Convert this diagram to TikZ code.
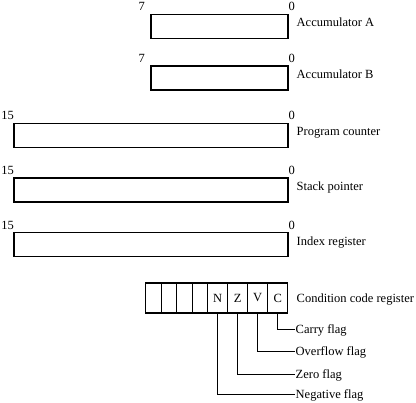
\documentclass[tikz,border=0pt]{standalone}
\usepackage{fontspec}
\setmainfont{Liberation Serif}
\begin{document}
\begin{tikzpicture}[x=1pt,y=-1pt,
  reg/.style={draw, line width=1.3pt, rectangle, inner sep=0pt, outer sep=0pt, minimum height=24pt},
  cell/.style={draw, line width=1.3pt, rectangle, inner sep=0pt, outer sep=0pt, minimum height=30pt, font=\fontsize{12.5}{14}\selectfont},
  bit/.style={inner sep=0pt, font=\fontsize{12.5}{14}\selectfont},
  lbl/.style={inner sep=0pt, anchor=base west, font=\fontsize{12.5}{14}\selectfont},
  wire/.style={line width=1.3pt}]
\useasboundingbox (0,0) rectangle (416,403);

% Accumulator A
\node[reg, minimum width=137pt] (accA) at (219.5,26.3) {};
\node[bit, anchor=base east] (accAh) at (145,10.7) {7};
\node[bit, anchor=base west] (accAl) at (288.3,10.7) {0};
\node[lbl] (accAn) at (296.5,26.8) {Accumulator A};

% Accumulator B
\node[reg, minimum width=137pt] (accB) at (219.5,78) {};
\node[bit, anchor=base east] (accBh) at (145,62.5) {7};
\node[bit, anchor=base west] (accBl) at (288.3,62.5) {0};
\node[lbl] (accBn) at (296.5,78.5) {Accumulator B};

% Program counter
\node[reg, minimum width=274pt] (pc) at (151,135.3) {};
\node[bit, anchor=base east] (pch) at (14,119.8) {15};
\node[bit, anchor=base west] (pcl) at (288.3,119.8) {0};
\node[lbl] (pcn) at (296.5,135.8) {Program counter};

% Stack pointer
\node[reg, minimum width=274pt] (sp) at (151,190) {};
\node[bit, anchor=base east] (sph) at (14,174.5) {15};
\node[bit, anchor=base west] (spl) at (288.3,174.5) {0};
\node[lbl] (spn) at (296.5,190.5) {Stack pointer};

% Index register
\node[reg, minimum width=274pt] (ix) at (151,244.7) {};
\node[bit, anchor=base east] (ixh) at (14,229.2) {15};
\node[bit, anchor=base west] (ixl) at (288.3,229.2) {0};
\node[lbl] (ixn) at (296.5,245.2) {Index register};

% Condition code register
\node[cell, minimum width=15.5pt] (c7) at (153.45,298) {};
\node[cell, minimum width=15.5pt] (c6) at (168.95,298) {};
\node[cell, minimum width=15.5pt] (c5) at (184.45,298) {};
\node[cell, minimum width=15.5pt] (c4) at (199.95,298) {};
\node[cell, minimum width=20pt] (cN) at (217.7,298) {N};
\node[cell, minimum width=20pt] (cZ) at (237.7,298) {Z};
\node[cell, minimum width=20pt] (cV) at (257.7,298) {V};
\node[cell, minimum width=20pt] (cC) at (277.7,298) {C};
\node[lbl] (ccrn) at (296.5,302.3) {Condition code register};

% Flag labels
\node[lbl] (fC) at (295.5,333.5) {Carry flag};
\node[lbl] (fV) at (295.5,356) {Overflow flag};
\node[lbl] (fZ) at (295.5,378.5) {Zero flag};
\node[lbl] (fN) at (295.5,399) {Negative flag};

\coordinate (eC) at (294.5,329.2);
\coordinate (eV) at (294.5,351.7);
\coordinate (eZ) at (294.5,374.2);
\coordinate (eN) at (294.5,394.7);

\draw[wire] (cC.south) |- (eC);
\draw[wire] (cV.south) |- (eV);
\draw[wire] (cZ.south) |- (eZ);
\draw[wire] (cN.south) |- (eN);
\end{tikzpicture}
\end{document}
